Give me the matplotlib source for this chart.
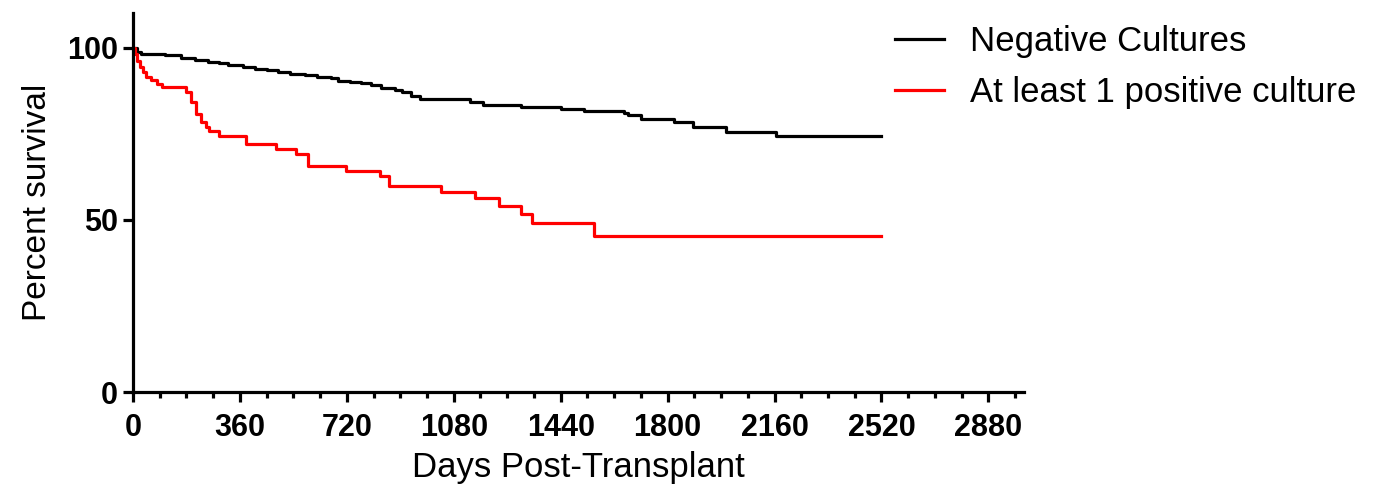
import matplotlib
matplotlib.use("Agg")
import matplotlib.pyplot as plt
from matplotlib.ticker import MultipleLocator

plt.rcParams['font.family'] = ['Liberation Sans', 'DejaVu Sans']

# Kaplan-Meier steps (day, percent survival)
neg_days = [0, 15, 28, 108, 163, 210, 253, 290, 321, 370, 410, 450, 489, 530,
            578, 620, 667, 690, 730, 768, 800, 835, 881, 905, 935, 967, 1136,
            1180, 1305, 1440, 1517, 1652, 1665, 1710, 1820, 1887, 1995, 2165, 2520]
neg_pct = [100, 98.8, 98.1, 97.8, 96.9, 96.4, 95.9, 95.4, 94.9, 94.4, 93.9, 93.4,
           92.9, 92.4, 91.9, 91.5, 91.2, 90.4, 90.0, 89.6, 89.0, 88.4, 87.7, 87.0,
           86.0, 85.2, 84.2, 83.2, 82.7, 82.2, 81.5, 80.9, 80.3, 79.4, 78.4, 77.0,
           75.6, 74.4, 74.4]

pos_days = [0, 8, 15, 25, 35, 45, 60, 80, 98, 177, 194, 211, 228, 245, 256, 290,
            379, 480, 548, 588, 717, 831, 862, 1038, 1153, 1231, 1308, 1345,
            1552, 2520]
pos_pct = [100, 98, 96, 94.5, 93, 91.5, 90.5, 89.5, 88.7, 87.0, 84.1, 80.7, 78.3,
           76.9, 75.9, 74.4, 72.0, 70.5, 69.1, 65.5, 64.2, 62.8, 59.7, 58.0, 56.3,
           54.1, 51.7, 49.2, 45.3, 45.3]

labels = ['Negative Cultures', 'At least 1 positive culture']
colors = ['black', '#ff0000']

fig = plt.figure(figsize=(13.98, 4.87), dpi=100)
ax = fig.add_axes([0.0951, 0.195, 0.6374, 0.778])

ax.step(neg_days, neg_pct, where='post', color=colors[0], lw=2.3, label=labels[0])
ax.step(pos_days, pos_pct, where='post', color=colors[1], lw=2.3, label=labels[1])

ax.set_xlim(0, 3000)
ax.set_ylim(0, 110)
ax.xaxis.set_major_locator(MultipleLocator(360))
ax.xaxis.set_minor_locator(MultipleLocator(90))
ax.set_yticks([0, 50, 100])

for s in ['top', 'right']:
    ax.spines[s].set_visible(False)
for s in ['left', 'bottom']:
    ax.spines[s].set_linewidth(2.3)

ax.tick_params(axis='x', which='major', length=7, width=2.3, pad=8, labelsize=22)
ax.tick_params(axis='x', which='minor', length=4, width=2.3)
ax.tick_params(axis='y', which='major', length=7, width=2.3, pad=4, labelsize=22)
for t in ax.get_xticklabels() + ax.get_yticklabels():
    t.set_fontweight('bold')

ax.set_xlabel('Days Post-Transplant', fontsize=25, labelpad=6)
ax.set_ylabel('Percent survival', fontsize=24, labelpad=10)

fig.legend(loc='upper left', bbox_to_anchor=(0.618, 1.012), frameon=False,
           fontsize=25, handlelength=1.4, handletextpad=0.75, labelspacing=0.5)

fig.savefig('out.png', dpi=100, facecolor='white')
